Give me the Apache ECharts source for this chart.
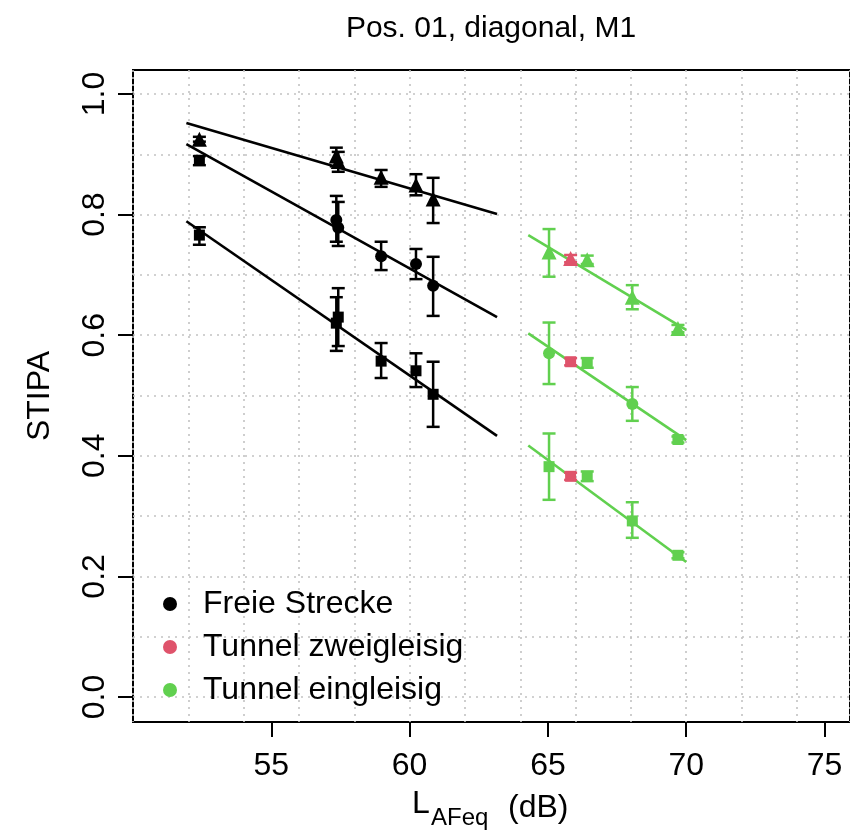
<!DOCTYPE html>
<html>
<head>
<meta charset="utf-8">
<title>STIPA</title>
<script src="https://cdn.jsdelivr.net/npm/echarts@6.0.0/dist/echarts.min.js"></script>
<style>
html,body{margin:0;padding:0;background:#fff;}
#main{width:850px;height:834px;}
</style>
</head>
<body>
<div id="main"></div>
<script>
// Freie Strecke (schwarz)
var blackX     = [52.4, 57.35, 57.42, 58.97, 60.23, 60.85];
var blackTop   = [0.925, 0.897, 0.888, 0.862, 0.849, 0.826];
var blackTopLo = [0.921, 0.880, 0.871, 0.846, 0.832, 0.786];
var blackTopHi = [0.929, 0.911, 0.904, 0.874, 0.867, 0.861];
var blackMid   = [0.890, 0.791, 0.778, 0.731, 0.718, 0.682];
var blackMidLo = [0.882, 0.755, 0.748, 0.708, 0.693, 0.632];
var blackMidHi = [0.897, 0.831, 0.821, 0.755, 0.743, 0.730];
var blackBot   = [0.766, 0.620, 0.630, 0.557, 0.541, 0.502];
var blackBotLo = [0.750, 0.574, 0.582, 0.529, 0.514, 0.448];
var blackBotHi = [0.779, 0.663, 0.678, 0.587, 0.570, 0.556];

// Tunnel zweigleisig (rot)
var redX     = [65.82];
var redTop   = [0.727], redTopLo = [0.721], redTopHi = [0.733];
var redMid   = [0.556], redMidLo = [0.550], redMidHi = [0.562];
var redBot   = [0.366], redBotLo = [0.360], redBotHi = [0.372];

// Tunnel eingleisig (gruen)
var greenX     = [65.04, 66.42, 68.05, 69.70];
var greenTop   = [0.738, 0.725, 0.663, 0.611];
var greenTopLo = [0.697, 0.718, 0.643, 0.605];
var greenTopHi = [0.776, 0.732, 0.683, 0.617];
var greenMid   = [0.570, 0.554, 0.486, 0.427];
var greenMidLo = [0.519, 0.546, 0.458, 0.422];
var greenMidHi = [0.621, 0.562, 0.514, 0.432];
var greenBot   = [0.382, 0.366, 0.292, 0.235];
var greenBotLo = [0.327, 0.358, 0.264, 0.230];
var greenBotHi = [0.437, 0.374, 0.323, 0.240];

// Regressionsgeraden (Endpunkte)
var fitX      = [51.93, 63.16];
var fitTop    = [0.952, 0.801];
var fitMid    = [0.917, 0.630];
var fitBot    = [0.789, 0.433];
var tunFitX   = [64.29, 70.0];
var tunFitTop = [0.766, 0.609];
var tunFitMid = [0.603, 0.426];
var tunFitBot = [0.417, 0.224];

// Achsen
var xTicks = [55, 60, 65, 70, 75];
var yTicks = [0, 0.2, 0.4, 0.6, 0.8, 1.0];
var xMin = 50, xMax = 75.92;

var BLACK = '#000000', RED = '#DF536B', GREEN = '#61D04F';
var FONT = '"Liberation Sans", Arial, sans-serif';
var SIZES = {triangle: 15, rect: 11, circle: 12};

function pts(xs, ys, shape) {
	var out = [];
	for (var i = 0; i < xs.length; i++) {
		var s = typeof shape === 'string' ? shape : shape[i];
		out.push({value: [xs[i], ys[i]], symbol: s, symbolSize: SIZES[s]});
	}
	return out;
}
function bars(xs, ys, lo, hi) {
	var out = [];
	for (var i = 0; i < xs.length; i++) out.push([xs[i], ys[i], lo[i], hi[i]]);
	return out;
}
function line(xs, ys) {
	return [[xs[0], ys[0]], [xs[1], ys[1]]];
}

var myChart = echarts.init(document.getElementById('main'));

function errSeries(name, color, data) {
	return {
		name: name,
		type: 'custom',
		xAxisIndex: 1, yAxisIndex: 1,
		silent: true,
		encode: {x: 0, y: [2, 3]},
		renderItem: function (params, api) {
			var x = api.value(0);
			var lo = api.coord([x, api.value(2)]);
			var hi = api.coord([x, api.value(3)]);
			var w = 6.5;
			var st = {stroke: color, lineWidth: 2.5};
			return {
				type: 'group',
				children: [
					{type: 'line', shape: {x1: lo[0], y1: lo[1], x2: hi[0], y2: hi[1]}, style: st},
					{type: 'line', shape: {x1: lo[0] - w, y1: lo[1], x2: lo[0] + w, y2: lo[1]}, style: st},
					{type: 'line', shape: {x1: hi[0] - w, y1: hi[1], x2: hi[0] + w, y2: hi[1]}, style: st}
				]
			};
		},
		data: data
	};
}
function fitSeries(name, color, data) {
	return {
		name: name, type: 'line', xAxisIndex: 1, yAxisIndex: 1,
		symbol: 'none', silent: true, z: 1,
		lineStyle: {color: color, width: 2.6},
		data: data
	};
}
function ptSeries(name, color, data) {
	return {
		name: name, type: 'scatter', xAxisIndex: 1, yAxisIndex: 1,
		itemStyle: {color: color, opacity: 1},
		z: 3,
		data: data
	};
}

var dotted = {color: '#c2c2c2', type: [2, 5], width: 1.6};

var option = {
	backgroundColor: '#fff',
	animation: false,
	textStyle: {fontFamily: FONT},
	grid: [
		{left: 133, right: -1, top: 70, bottom: 112, show: true, borderColor: '#000', borderWidth: 2, backgroundColor: 'transparent'},
		{left: 133, right: -1, top: 94, bottom: 137}
	],
	xAxis: [
		{gridIndex: 0, type: 'value', position: 'bottom', min: xMin, max: xMax, interval: 2,
			axisLine: {show: false}, axisTick: {show: false}, axisLabel: {show: false},
			splitLine: {show: true, lineStyle: dotted}},
		{gridIndex: 1, type: 'value', position: 'bottom', min: xMin, max: xMax, offset: 25,
			axisLine: {show: false, onZero: false},
			axisTick: {show: true, customValues: xTicks, length: 15, lineStyle: {color: '#000', width: 2}},
			axisLabel: {customValues: xTicks, color: '#000', fontSize: 32, fontFamily: FONT, margin: 28},
			splitLine: {show: false}}
	],
	yAxis: [
		{gridIndex: 0, type: 'value', position: 'left', min: 0, max: 1, show: false},
		{gridIndex: 1, type: 'value', position: 'left', min: 0, max: 1, interval: 0.1,
			axisLine: {show: false, onZero: false}, axisTick: {show: false}, axisLabel: {show: false},
			splitLine: {show: true, lineStyle: dotted}},
		{gridIndex: 1, type: 'value', position: 'left', min: 0, max: 1,
			axisLine: {show: false, onZero: false},
			axisTick: {show: true, customValues: yTicks, length: 15, lineStyle: {color: '#000', width: 2}},
			axisLabel: {customValues: yTicks, rotate: 90, color: '#000', fontSize: 32, fontFamily: FONT, margin: 22,
				formatter: function (v) { return v.toFixed(1); }},
			splitLine: {show: false}}
	],
	legend: {
		orient: 'vertical', left: 158, top: 583,
		itemWidth: 14, itemHeight: 14, itemGap: 11,
		selectedMode: false,
		textStyle: {fontSize: 32, color: '#000', lineHeight: 30, padding: [0, 0, 0, 21], fontFamily: FONT},
		data: [
			{name: 'Freie Strecke', icon: 'circle'},
			{name: 'Tunnel zweigleisig', icon: 'circle'},
			{name: 'Tunnel eingleisig', icon: 'circle'}
		]
	},
	graphic: [
		{type: 'text', x: 491, y: 14, style: {text: 'Pos. 01, diagonal, M1', fontSize: 30, fontFamily: FONT, fill: '#000', align: 'center', verticalAlign: 'top'}},
		{type: 'text', x: 40, y: 396, rotation: Math.PI / 2, style: {text: 'STIPA', fontSize: 32, fontFamily: FONT, fill: '#000', align: 'center', verticalAlign: 'middle'}},
		{type: 'text', x: 412, y: 820, style: {text: 'L', fontSize: 32, fontFamily: FONT, fill: '#000', align: 'left', verticalAlign: 'bottom'}},
		{type: 'text', x: 431, y: 830, style: {text: 'AFeq', fontSize: 24, fontFamily: FONT, fill: '#000', align: 'left', verticalAlign: 'bottom'}},
		{type: 'text', x: 508, y: 824, style: {text: '(dB)', fontSize: 32, fontFamily: FONT, fill: '#000', align: 'left', verticalAlign: 'bottom'}}
	],
	series: [
		fitSeries('fit-fs-top', BLACK, line(fitX, fitTop)),
		fitSeries('fit-fs-mid', BLACK, line(fitX, fitMid)),
		fitSeries('fit-fs-bot', BLACK, line(fitX, fitBot)),
		fitSeries('fit-te-top', GREEN, line(tunFitX, tunFitTop)),
		fitSeries('fit-te-mid', GREEN, line(tunFitX, tunFitMid)),
		fitSeries('fit-te-bot', GREEN, line(tunFitX, tunFitBot)),

		errSeries('err-fs-top', BLACK, bars(blackX, blackTop, blackTopLo, blackTopHi)),
		errSeries('err-fs-mid', BLACK, bars(blackX, blackMid, blackMidLo, blackMidHi)),
		errSeries('err-fs-bot', BLACK, bars(blackX, blackBot, blackBotLo, blackBotHi)),
		errSeries('err-tz-top', RED, bars(redX, redTop, redTopLo, redTopHi)),
		errSeries('err-tz-mid', RED, bars(redX, redMid, redMidLo, redMidHi)),
		errSeries('err-tz-bot', RED, bars(redX, redBot, redBotLo, redBotHi)),
		errSeries('err-te-top', GREEN, bars(greenX, greenTop, greenTopLo, greenTopHi)),
		errSeries('err-te-mid', GREEN, bars(greenX, greenMid, greenMidLo, greenMidHi)),
		errSeries('err-te-bot', GREEN, bars(greenX, greenBot, greenBotLo, greenBotHi)),

		ptSeries('Freie Strecke', BLACK,
			pts(blackX, blackTop, 'triangle')
			.concat(pts(blackX, blackMid, ['rect', 'circle', 'circle', 'circle', 'circle', 'circle']))
			.concat(pts(blackX, blackBot, 'rect'))),
		ptSeries('Tunnel zweigleisig', RED,
			pts(redX, redTop, 'triangle')
			.concat(pts(redX, redMid, 'rect'))
			.concat(pts(redX, redBot, 'rect'))),
		ptSeries('Tunnel eingleisig', GREEN,
			pts(greenX, greenTop, 'triangle')
			.concat(pts(greenX, greenMid, ['circle', 'rect', 'circle', 'rect']))
			.concat(pts(greenX, greenBot, 'rect')))
	]
};
myChart.setOption(option);
</script>
</body>
</html>
